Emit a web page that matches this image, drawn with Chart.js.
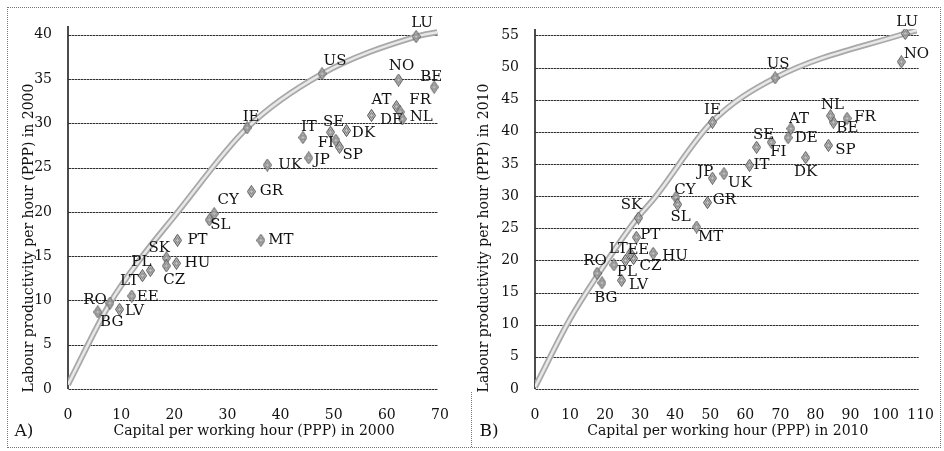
<!DOCTYPE html>
<html>
<head>
<meta charset="utf-8">
<script src="https://cdn.jsdelivr.net/npm/chart.js@4.4.1/dist/chart.umd.min.js"></script>
<style>
body { margin: 0; background: #fff; }
#wrap { position: relative; width: 944px; height: 451px; overflow: hidden; }
#frame { position: absolute; left: 7px; top: 7px; width: 932px; height: 439px; border: 1px dotted #777; }
#sep { position: absolute; left: 471px; top: 392px; height: 55px; border-left: 1px dotted #777; }
canvas { position: absolute; top: 0; }
</style>
</head>
<body>
<div id="wrap">
  <div id="frame"></div>
  <div id="sep"></div>
  <canvas id="chartA" width="470" height="451" style="left:0"></canvas>
  <canvas id="chartB" width="474" height="451" style="left:470px"></canvas>
</div>
<script>
// --- data ---
var countries = ['LU','US','NO','BE','AT','FR','DE','NL','IE','IT','SE','FI','SP','DK','JP','UK','GR','CY','SL','MT','PT','SK','HU','CZ','PL','LT','EE','RO','BG','LV'];

var capital2000 =      [65.5, 47.8, 62.2, 68.9, 61.8, 62.5, 57.1, 62.9, 33.7, 44.2, 49.4, 50.4, 51.1, 52.4, 45.3, 37.5, 34.5, 27.5, 26.6, 36.3, 20.6, 18.5, 20.4, 18.5, 15.5, 14.0, 12.0, 7.9, 5.6, 9.7];
var productivity2000 = [39.8, 35.6, 34.9, 34.1, 31.9, 31.3, 30.9, 30.5, 29.5, 28.4, 29.0, 28.1, 27.3, 29.2, 26.1, 25.3, 22.3, 19.8, 19.1, 16.8, 16.8, 14.8, 14.2, 13.9, 13.4, 12.8, 10.5, 9.7, 8.7, 9.0];

var capital2010 =      [105.6, 68.5, 104.5, 85.1, 73.0, 89.0, 72.2, 84.3, 50.6, 61.2, 63.2, 67.4, 83.7, 77.2, 50.6, 53.9, 49.2, 40.2, 40.7, 46.1, 28.9, 29.5, 33.7, 28.1, 22.5, 25.8, 27.2, 17.7, 19.1, 24.7];
var productivity2010 = [55.3, 48.4, 50.9, 41.5, 40.5, 42.1, 39.1, 42.5, 41.5, 34.8, 37.6, 38.4, 37.9, 36.0, 32.8, 33.5, 29.0, 29.8, 28.7, 25.2, 23.6, 26.6, 21.1, 20.3, 19.3, 20.0, 21.1, 18.0, 16.5, 16.9];

// frontier curves
var frontierX2000 = [0, 7.9, 13.5, 20, 33.7, 47.8, 65.5, 69.5];
var frontierY2000 = [0.5, 9.7, 14.6, 19.5, 29.5, 35.6, 39.8, 40.3];
var frontierX2010 = [0, 9.8, 18.2, 28.6, 34.2, 50.4, 68.5, 105.6, 108.8];
var frontierY2010 = [0.3, 10.7, 18.0, 26.2, 29.8, 41.5, 48.4, 55.3, 55.8];

var xTicks2000 = [0, 10, 20, 30, 40, 50, 60, 70];
var yTicks2000 = [0, 5, 10, 15, 20, 25, 30, 35, 40];
var xTicks2010 = [0, 10, 20, 30, 40, 50, 60, 70, 80, 90, 100, 110];
var yTicks2010 = [0, 5, 10, 15, 20, 25, 30, 35, 40, 45, 50, 55];

// label placement (px from the marker)
var labelOffsetA = {
  LU:[6,-14], US:[13,-13], NO:[3,-14], BE:[-3,-10], AT:[-15,-6], FR:[20,-12], DE:[20,5], NL:[19,-2],
  IE:[4,-11], IT:[6,-10], SE:[3,-10], FI:[-10,3], SP:[13,8], DK:[17,3], JP:[13,2], UK:[23,0],
  GR:[20,0], CY:[14,-14], SL:[11,5], MT:[20,0], PT:[20,0], SK:[-7,-10], HU:[21,0], CZ:[8,14],
  PL:[-9,-8], LT:[-13,5], EE:[16,1], RO:[-15,-3], BG:[14,10], LV:[15,2]
};
var labelOffsetB = {
  LU:[2,-11], US:[3,-14], NO:[15,-8], BE:[14,6], AT:[8,-10], FR:[18,-1], DE:[18,0], NL:[2,-11],
  IE:[0,-12], IT:[12,0], SE:[7,-12], FI:[7,10], SP:[17,5], DK:[0,15], JP:[-7,-6], UK:[16,9],
  GR:[17,-2], CY:[9,-7], SL:[3,13], MT:[14,10], PT:[14,-2], SK:[-7,-13], HU:[22,3], CZ:[17,8],
  PL:[13,7], LT:[-7,-11], EE:[8,-3], RO:[-2,-12], BG:[4,15], LV:[17,5]
};

var serif = "'DejaVu Serif', serif";

function zip(xs, ys) {
  return xs.map(function (x, i) { return { x: x, y: ys[i] }; });
}

// diamond marker
var diamond = document.createElement('canvas');
diamond.width = 9; diamond.height = 13;
(function () {
  var c = diamond.getContext('2d');
  c.beginPath();
  c.moveTo(4.5, 0.5); c.lineTo(8.5, 6.5); c.lineTo(4.5, 12.5); c.lineTo(0.5, 6.5); c.closePath();
  c.fillStyle = '#c4c4c4'; c.fill();
  c.lineWidth = 1; c.strokeStyle = '#4a4a4a'; c.stroke();
  c.beginPath();
  c.moveTo(4.5, 3.5); c.lineTo(6.5, 6.5); c.lineTo(4.5, 9.5); c.lineTo(2.5, 6.5); c.closePath();
  c.strokeStyle = '#777'; c.stroke();
})();

// dotted texture for the grid (setLineDash does not render here)
var dots = document.createElement('canvas');
dots.width = 3; dots.height = 1;
(function () {
  var c = dots.getContext('2d');
  c.fillStyle = '#2e2e2e'; c.fillRect(0, 0, 2, 1);
  c.fillStyle = '#a0a0a0'; c.fillRect(2, 0, 1, 1);
})();

// dotted horizontal grid + solid y axis line, from the y scale ticks
var dottedGrid = {
  id: 'dottedGrid',
  beforeDatasetsDraw: function (chart) {
    var ctx = chart.ctx, y = chart.scales.y, area = chart.chartArea;
    ctx.save();
    ctx.fillStyle = ctx.createPattern(dots, 'repeat');
    y.ticks.forEach(function (t) {
      var py = Math.round(y.getPixelForValue(t.value));
      ctx.fillRect(area.left, py, area.right - 2 - area.left, 1);
    });
    ctx.strokeStyle = '#111';
    ctx.lineWidth = 1.5;
    ctx.beginPath();
    ctx.moveTo(area.left, area.top);
    ctx.lineTo(area.left, area.bottom);
    ctx.stroke();
    ctx.restore();
  }
};

var countryLabels = {
  id: 'countryLabels',
  afterDatasetsDraw: function (chart, args, opts) {
    var ctx = chart.ctx;
    var meta = chart.getDatasetMeta(0);
    ctx.save();
    ctx.font = '15px ' + serif;
    ctx.fillStyle = '#111';
    ctx.textAlign = 'center';
    ctx.textBaseline = 'middle';
    meta.data.forEach(function (pt, i) {
      var name = countries[i];
      var off = opts.offsets[name] || [0, -12];
      ctx.fillText(name, pt.x + off[0], pt.y + off[1]);
    });
    ctx.restore();
  }
};

var panelText = {
  id: 'panelText',
  afterDraw: function (chart, args, opts) {
    var ctx = chart.ctx;
    ctx.save();
    ctx.font = '14px ' + serif;
    ctx.fillStyle = '#111';
    ctx.textAlign = 'center';
    ctx.textBaseline = 'middle';
    ctx.translate(opts.yTitleX, 238);
    ctx.rotate(-Math.PI / 2);
    ctx.fillText(opts.yTitle, 0, 0);
    ctx.restore();
    ctx.save();
    ctx.font = '17px ' + serif;
    ctx.fillStyle = '#111';
    ctx.textAlign = 'center';
    ctx.textBaseline = 'middle';
    ctx.fillText(opts.letter, opts.letterX, 432);
    ctx.restore();
  }
};

function makeChart(id, p) {
  var ctx = document.getElementById(id).getContext('2d');
  return new Chart(ctx, {
    type: 'scatter',
    data: {
      datasets: [{
        label: 'countries',
        data: zip(p.xs, p.ys),
        pointStyle: diamond,
        pointRadius: 5
      }, {
        label: 'frontier inner',
        data: zip(p.fx, p.fy),
        showLine: true,
        pointRadius: 0,
        borderColor: '#e8e8e8',
        borderWidth: 2.5,
        cubicInterpolationMode: 'monotone'
      }, {
        label: 'frontier',
        data: zip(p.fx, p.fy),
        showLine: true,
        pointRadius: 0,
        borderColor: '#a8a8a8',
        borderWidth: 6,
        cubicInterpolationMode: 'monotone'
      }]
    },
    options: {
      responsive: false,
      animation: false,
      layout: { padding: { top: p.padTop, right: p.padRight, left: 0, bottom: 0 } },
      plugins: {
        legend: { display: false },
        tooltip: { enabled: false },
        countryLabels: { offsets: p.offsets },
        panelText: { yTitle: p.yTitle, yTitleX: p.yTitleX, letter: p.letter, letterX: p.letterX }
      },
      scales: {
        x: {
          type: 'linear',
          min: 0,
          max: p.xMax,
          afterBuildTicks: function (s) { s.ticks = p.xTicks.map(function (v) { return { value: v }; }); },
          afterFit: function (s) { s.height = 62; },
          ticks: { padding: 10, color: '#111', font: { family: serif, size: 14 } },
          grid: { display: false },
          border: { display: false },
          title: {
            display: true,
            text: p.xTitle,
            color: '#111',
            font: { family: serif, size: 14 },
            padding: { top: 0, bottom: 11 }
          }
        },
        y: {
          type: 'linear',
          min: 0,
          max: p.yMax,
          afterBuildTicks: function (s) { s.ticks = p.yTicks.map(function (v) { return { value: v }; }); },
          afterFit: function (s) { s.width = p.yWidth; },
          ticks: { padding: 8, color: '#111', font: { family: serif, size: 14 } },
          grid: { display: false },
          border: { display: false }
        }
      }
    },
    plugins: [dottedGrid, countryLabels, panelText]
  });
}

makeChart('chartA', {
  xs: capital2000, ys: productivity2000,
  fx: frontierX2000, fy: frontierY2000,
  xMax: 70, yMax: 41, xTicks: xTicks2000, yTicks: yTicks2000,
  padTop: 26, padRight: 30, yWidth: 68,
  offsets: labelOffsetA,
  xTitle: 'Capital per working hour (PPP) in 2000',
  yTitle: 'Labour productivity per hour (PPP) in 2000',
  yTitleX: 29, letter: 'A)', letterX: 24
});

makeChart('chartB', {
  xs: capital2010, ys: productivity2010,
  fx: frontierX2010, fy: frontierY2010,
  xMax: 110, yMax: 56, xTicks: xTicks2010, yTicks: yTicks2010,
  padTop: 29, padRight: 16, yWidth: 65,
  offsets: labelOffsetB,
  xTitle: 'Capital per working hour (PPP) in 2010',
  yTitle: 'Labour productivity per hour (PPP) in 2010',
  yTitleX: 14, letter: 'B)', letterX: 19
});
</script>
</body>
</html>
